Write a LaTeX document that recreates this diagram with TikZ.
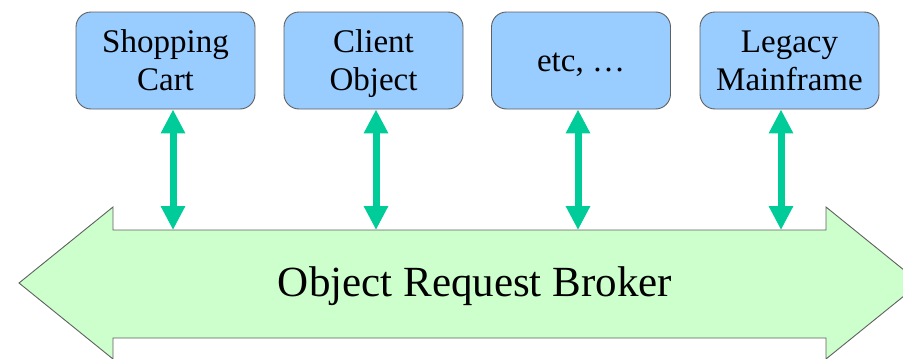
\documentclass[tikz,border=0pt]{standalone}
\usepackage{fontspec}
\setmainfont{Liberation Serif}
\usetikzlibrary{arrows.meta}
\definecolor{boxblue}{HTML}{99CCFF}
\definecolor{linkgreen}{HTML}{00CC99}
\definecolor{orbgreen}{HTML}{CCFFCC}
\definecolor{edgegray}{HTML}{606060}
\tikzset{
  compbox/.style={draw=edgegray, line width=0.9pt, fill=boxblue, rounded corners=15pt,
    minimum width=179pt, minimum height=97pt, inner sep=0pt},
  boxtext/.style={align=center, inner sep=0pt, font=\rmfamily\fontsize{33}{38}\selectfont},
  link/.style={draw=linkgreen, line width=7pt,
    {Triangle[width=23pt,length=24pt]}-{Triangle[width=23pt,length=24pt]}},
  orbshape/.style={draw=edgegray, line width=0.9pt, fill=orbgreen}
}
\begin{document}
\begin{tikzpicture}[x=1pt,y=-1pt]
\useasboundingbox (0,0) rectangle (903,359);
\begin{scope}
\clip (0,0) rectangle (903,359);
\path[orbshape] (19,283) -- (113,207) -- (113,230) -- (826,230) -- (826,207) -- (920,283)
  -- (826,359) -- (826,338) -- (113,338) -- (113,359) -- cycle;
\end{scope}
\node[font=\rmfamily\fontsize{43}{52}\selectfont] (orb) at (475,286) {Object Request Broker};
\node[compbox] (sc) at (165.5,60.5) {};
\node[compbox] (co) at (373.5,60.5) {};
\node[compbox] (etc) at (581,60.5) {};
\node[compbox] (lm) at (789.5,60.5) {};
\node[boxtext] (sct) at (165.5,64) {Shopping\strut\\Cart\strut};
\node[boxtext] (cot) at (373.5,64) {Client\strut\\Object\strut};
\node[boxtext] (etct) at (581,64) {etc, \dots\strut};
\node[boxtext] (lmt) at (789.5,64) {Legacy\strut\\Mainframe\strut};
\coordinate (b1) at (173,230);
\coordinate (b2) at (376,230);
\coordinate (b3) at (578,230);
\coordinate (b4) at (781,230);
\draw[link] (sc.south -| b1) -- (b1);
\draw[link] (co.south -| b2) -- (b2);
\draw[link] (etc.south -| b3) -- (b3);
\draw[link] (lm.south -| b4) -- (b4);
\end{tikzpicture}
\end{document}
